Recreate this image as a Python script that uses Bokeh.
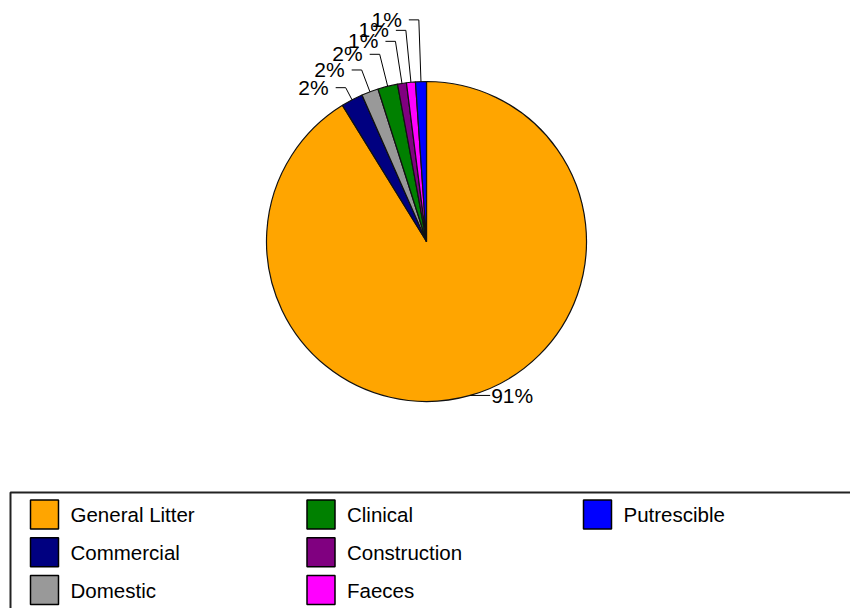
import math
from bokeh.plotting import figure
from bokeh.models import Range1d
from bokeh.core.properties import value
from bokeh.embed import file_html
from bokeh.resources import INLINE

# ---- data ----
categories = ["General Litter", "Commercial", "Domestic", "Clinical",
              "Construction", "Faeces", "Putrescible"]
shares = [91.2, 2.2, 1.7, 2.0, 0.9, 0.9, 1.1]
colors = ["#FFA500", "#000080", "#999999", "#008000",
          "#800080", "#FF00FF", "#0000FF"]

# ---- layout (picture pixels; data y = -picture_y) ----
W, H = 850, 608
CX, CY, R = 426, -241, 160
FONT = value("Liberation Sans")

p = figure(width=W, height=H, output_backend="svg", toolbar_location=None,
           x_range=Range1d(0, W), y_range=Range1d(-H, 0),
           min_border=0, x_axis_location=None, y_axis_location=None,
           outline_line_color=None, background_fill_color="white",
           border_fill_color="white")
p.xgrid.visible = False
p.ygrid.visible = False

total = sum(shares)
cum = 0.0
starts, ends, mids = [], [], []
for v in shares:
    f0 = cum / total
    cum += v
    f1 = cum / total
    starts.append(math.pi / 2 - 2 * math.pi * f0)
    ends.append(math.pi / 2 - 2 * math.pi * f1)
    mids.append(math.pi / 2 - 2 * math.pi * (f0 + f1) / 2)

p.wedge(x=CX, y=CY, radius=R, start_angle=starts, end_angle=ends,
        direction="clock", fill_color=colors, line_color="#111111",
        line_width=1.2)

# ---- percentage labels with leader lines ----
lx, ly, lt = [], [], []
rx, ry, rt = [], [], []
xs, ys = [], []
k = 0
for v, a in zip(shares, mids):
    pct = f"{round(v / total * 100)}%"
    c, s = math.cos(a), math.sin(a)
    x0, y0 = CX + R * c, CY + R * s
    if c >= 0:
        ex, ey = x0, y0
        hx = ex + 20
        xs.append([x0, hx]); ys.append([y0, ey])
        rx.append(hx + 1); ry.append(ey); rt.append(pct)
    else:
        fac = 1.086 + 0.06 * k
        k += 1
        ex, ey = CX + R * fac * c, CY + R * fac * s
        hx = ex - 10
        xs.append([x0, ex, hx]); ys.append([y0, ey, ey])
        lx.append(hx - 7); ly.append(ey + 0.5); lt.append(pct)

p.multi_line(xs=xs, ys=ys, line_color="black", line_width=1)
p.text(x=lx, y=ly, text=lt, text_align="right", text_baseline="middle",
       text_font=FONT, text_font_size=value("21px"), text_color="black")
p.text(x=rx, y=ry, text=rt, text_align="left", text_baseline="middle",
       text_font=FONT, text_font_size=value("21px"), text_color="black")

# ---- legend box ----
p.quad(left=10, right=1000, top=-492, bottom=-800, fill_color=None,
       line_color="#222222", line_width=2)

SW, SH = 28, 29
col_left0, col_pitch = 30, 276.5
row_top0, row_pitch = 499.5, 37.8
sx, sy, tx, ty = [], [], [], []
for i, name in enumerate(categories):
    col, row = i // 3, i % 3
    left = col_left0 + col * col_pitch
    top = row_top0 + row * row_pitch
    sx.append(left + SW / 2); sy.append(-(top + SH / 2))
    tx.append(left + 40); ty.append(-(top + SH / 2))

p.rect(x=sx, y=sy, width=SW, height=SH, fill_color=colors,
       line_color="black", line_width=1.5)
p.text(x=tx, y=ty, text=categories, text_align="left",
       text_baseline="middle", text_font=FONT,
       text_font_size=value("20.5px"), text_color="black")

open("out.html", "w").write(file_html(p, INLINE))
